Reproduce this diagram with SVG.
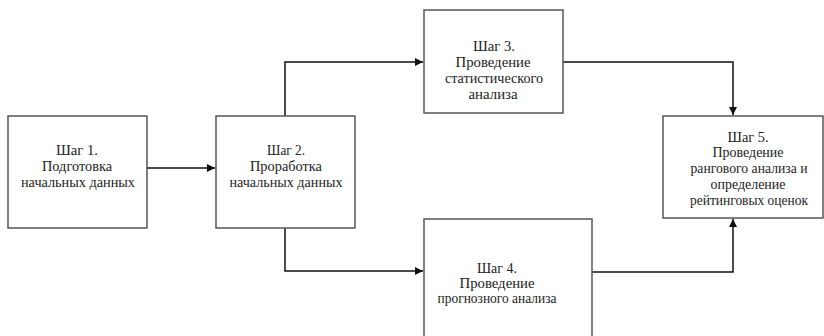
<svg xmlns="http://www.w3.org/2000/svg" width="824" height="336" viewBox="0 0 824 336">
<defs>
<style>
.box{fill:#fff;stroke:#555;stroke-width:1.5}
.t{font-family:"Liberation Serif","DejaVu Serif","Times New Roman",serif;font-size:14px;fill:#222;text-anchor:middle}
.c{fill:none;stroke:#111;stroke-width:1.5}
</style>
<marker id="ah" viewBox="0 0 10 10" refX="10" refY="5" markerWidth="8" markerHeight="8" markerUnits="userSpaceOnUse" orient="auto">
<path d="M0,0 L10,5 L0,10 z" fill="#111"/>
</marker>
</defs>
<rect width="824" height="336" fill="#fff"/>
<g id="connectors">
<path class="c" d="M147,168 L215,168" marker-end="url(#ah)"/>
<path class="c" d="M285,116 L285,62 L423,62" marker-end="url(#ah)"/>
<path class="c" d="M285,228 L285,271 L423,271" marker-end="url(#ah)"/>
<path class="c" d="M563,62 L733,62 L733,115" marker-end="url(#ah)"/>
<path class="c" d="M592,272 L733,272 L733,219" marker-end="url(#ah)"/>
</g>
<g id="step1">
<rect class="box" x="8" y="116" width="139" height="112"/>
<text class="t" x="77" y="155" textLength="42" lengthAdjust="spacingAndGlyphs">Шаг 1.</text>
<text class="t" x="77" y="171" textLength="70" lengthAdjust="spacingAndGlyphs">Подготовка</text>
<text class="t" x="78" y="187" textLength="114" lengthAdjust="spacingAndGlyphs">начальных данных</text>
</g>
<g id="step2">
<rect class="box" x="216" y="116" width="139" height="112"/>
<text class="t" x="286" y="155" textLength="38" lengthAdjust="spacingAndGlyphs">Шаг 2.</text>
<text class="t" x="286" y="171" textLength="72" lengthAdjust="spacingAndGlyphs">Проработка</text>
<text class="t" x="286" y="187" textLength="113" lengthAdjust="spacingAndGlyphs">начальных данных</text>
</g>
<g id="step3">
<rect class="box" x="424" y="10" width="139" height="103"/>
<text class="t" x="494" y="51" textLength="42" lengthAdjust="spacingAndGlyphs">Шаг 3.</text>
<text class="t" x="493" y="67" textLength="75" lengthAdjust="spacingAndGlyphs">Проведение</text>
<text class="t" x="494" y="83" textLength="98" lengthAdjust="spacingAndGlyphs">статистического</text>
<text class="t" x="493" y="99" textLength="49" lengthAdjust="spacingAndGlyphs">анализа</text>
</g>
<g id="step4">
<rect class="box" x="424" y="219" width="168" height="125"/>
<text class="t" x="497" y="273" textLength="40" lengthAdjust="spacingAndGlyphs">Шаг 4.</text>
<text class="t" x="497" y="288" textLength="75" lengthAdjust="spacingAndGlyphs">Проведение</text>
<text class="t" x="497" y="303" textLength="119" lengthAdjust="spacingAndGlyphs">прогнозного анализа</text>
</g>
<g id="step5">
<rect class="box" x="663" y="116" width="160" height="102"/>
<text class="t" x="748" y="142" textLength="41" lengthAdjust="spacingAndGlyphs">Шаг 5.</text>
<text class="t" x="748" y="157" textLength="71" lengthAdjust="spacingAndGlyphs">Проведение</text>
<text class="t" x="749" y="173" textLength="117" lengthAdjust="spacingAndGlyphs">рангового анализа и</text>
<text class="t" x="748" y="189" textLength="75" lengthAdjust="spacingAndGlyphs">определение</text>
<text class="t" x="749" y="205" textLength="118" lengthAdjust="spacingAndGlyphs">рейтинговых оценок</text>
</g>
</svg>
